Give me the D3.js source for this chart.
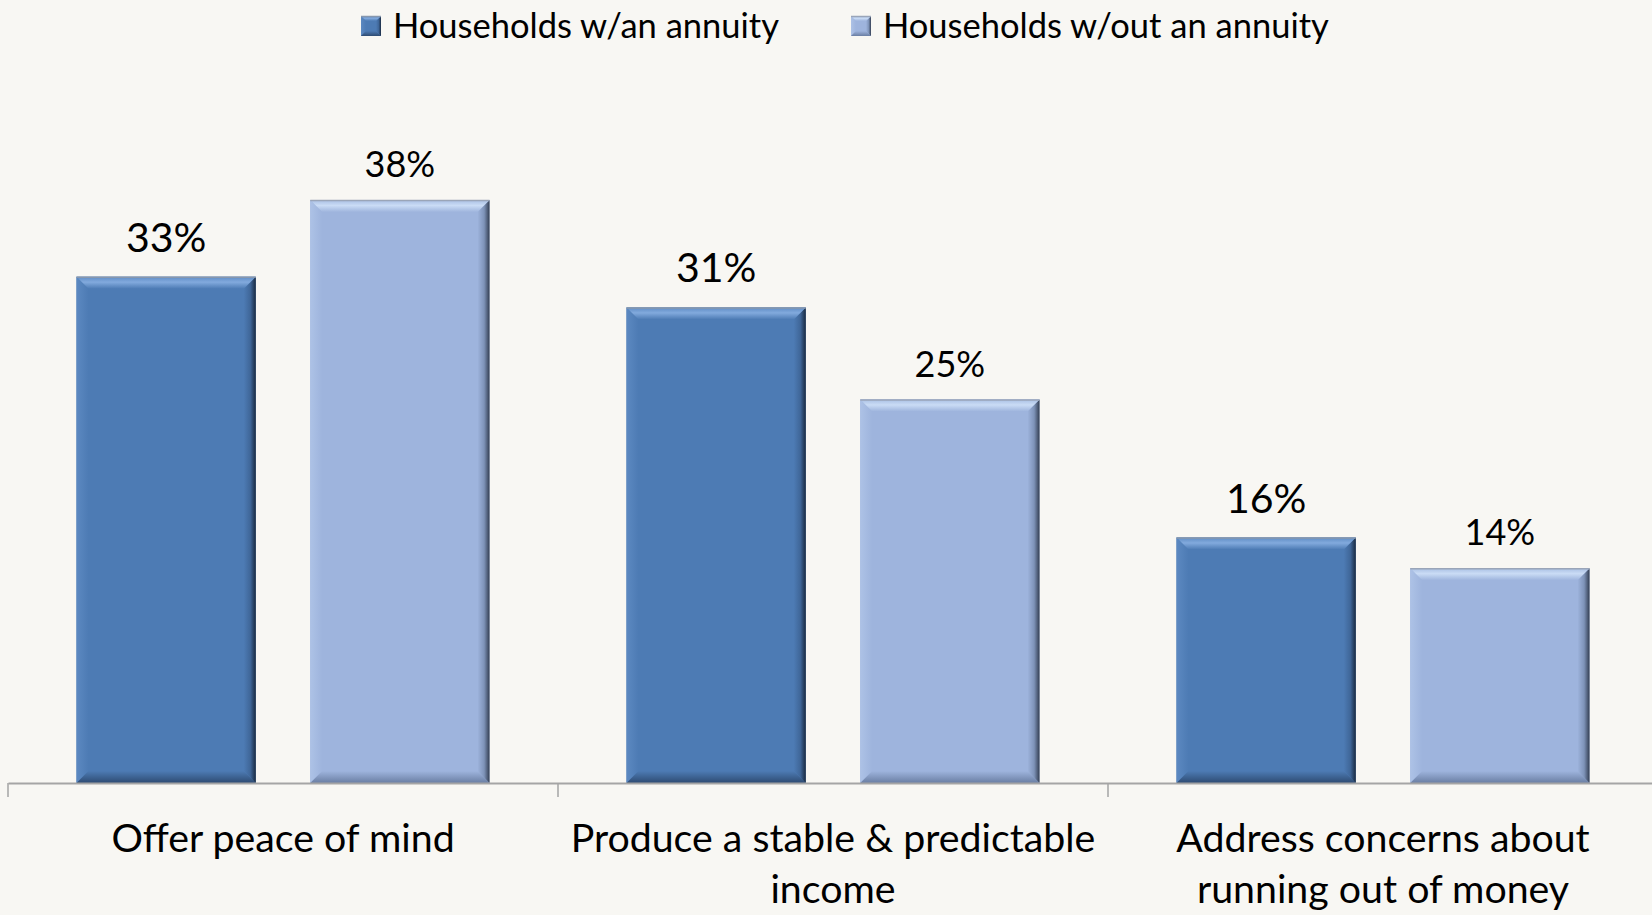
<!DOCTYPE html>
<html>
<head>
<meta charset="utf-8">
<script src="https://cdn.jsdelivr.net/npm/d3@7"></script>
<style>
  body { margin: 0; background: #f8f7f3; }
  text { font-family: Lato, "Open Sans", sans-serif; fill: #000; }
</style>
</head>
<body>
<div id="chart"></div>
<script>
// chart data
const categories = ["Offer peace of mind", "Produce a stable & predictable income", "Address concerns about running out of money"];
const categoryLines = [["Offer peace of mind"], ["Produce a stable & predictable", "income"], ["Address concerns about", "running out of money"]];
const seriesNames = ["Households w/an annuity", "Households w/out an annuity"];
const withAnnuity = [0.33, 0.31, 0.16];
const withoutAnnuity = [0.38, 0.25, 0.14];

const width = 1652, height = 915;
const axisY = 783;

const palette = [
  { base: "#4d7bb4", top: "#82aadd", topEdge: "#5f8cc4", mid: "#3f6698", right: "#1a2a40", bottom: "#2e4b72", left: "#5c89c1", stroke: "#8797ad" },
  { base: "#9eb4dd", top: "#cadcf5", topEdge: "#a9bfe4", mid: "#7e93b8", right: "#333e52", bottom: "#6a7ea3", left: "#adc2e6", stroke: "#9aa5b8" }
];

const svg = d3.select("#chart")
  .append("svg")
  .attr("width", width)
  .attr("height", height);

svg.append("rect").attr("width", width).attr("height", height).attr("fill", "#f8f7f3");

const defs = svg.append("defs");
palette.forEach((p, i) => {
  const grad = (id, x2, y2, stops) => {
    const g = defs.append("linearGradient").attr("id", id)
      .attr("x1", 0).attr("y1", 0).attr("x2", x2).attr("y2", y2);
    stops.forEach(s => g.append("stop").attr("offset", s[0]).attr("stop-color", s[1]));
  };
  grad(`top${i}`, 0, 1, [[0, p.topEdge], [0.45, p.top], [1, p.base]]);
  grad(`right${i}`, 1, 0, [[0, p.base], [0.55, p.mid], [1, p.right]]);
  grad(`bottom${i}`, 0, 1, [[0, p.base], [1, p.bottom]]);
  grad(`left${i}`, 1, 0, [[0, p.left], [1, p.base]]);
});

const x0 = d3.scaleBand()
  .domain(categories)
  .range([8, 1658]);

const x1 = d3.scaleBand()
  .domain(seriesNames)
  .range([0, x0.bandwidth()])
  .paddingInner(0.233)
  .paddingOuter(0.293);

const y = d3.scaleLinear()
  .domain([0, 0.4])
  .range([axisY, 169.4]);

const rows = [];
categories.forEach((c, ci) => {
  rows.push({ cat: c, s: 0, value: withAnnuity[ci] });
  rows.push({ cat: c, s: 1, value: withoutAnnuity[ci] });
});

// bevelled bar
function bevel(g, bx, by, bw, bh, s, b) {
  const xr = bx + bw, yb = by + bh;
  g.append("rect").attr("x", bx).attr("y", by).attr("width", bw).attr("height", bh)
    .attr("fill", palette[s].base);
  const poly = (pts, fill) => g.append("polygon")
    .attr("points", pts.map(p => p.join(",")).join(" "))
    .attr("fill", fill);
  poly([[bx, by], [bx + b, by + b], [bx + b, yb - b], [bx, yb]], `url(#left${s})`);
  poly([[bx, yb], [bx + b, yb - b], [xr - b, yb - b], [xr, yb]], `url(#bottom${s})`);
  poly([[xr, by], [xr, yb], [xr - b, yb - b], [xr - b, by + b]], `url(#right${s})`);
  poly([[bx, by], [xr, by], [xr - b, by + b], [bx + b, by + b]], `url(#top${s})`);
  g.append("line").attr("x1", bx).attr("x2", xr).attr("y1", by + 0.5).attr("y2", by + 0.5)
    .attr("stroke", palette[s].stroke).attr("stroke-width", 1.5);
}

const bars = svg.append("g");
rows.forEach(d => {
  const bx = x0(d.cat) + x1(seriesNames[d.s]);
  const by = y(d.value);
  bevel(bars.append("g"), bx, by, x1.bandwidth(), y(0) - by, d.s, 12);
});

// value labels
svg.append("g")
  .selectAll("text")
  .data(rows)
  .join("text")
  .attr("x", d => x0(d.cat) + x1(seriesNames[d.s]) + x1.bandwidth() / 2)
  .attr("y", d => y(d.value) - (d.s === 0 ? 25 : 23))
  .attr("text-anchor", "middle")
  .attr("font-size", d => d.s === 0 ? 41 : 36)
  .text(d => d3.format(".0%")(d.value));

// x axis
const xAxis = svg.append("g")
  .attr("transform", `translate(0,${axisY})`)
  .call(d3.axisBottom(x0).tickSize(0).tickSizeOuter(0).tickFormat(""));
xAxis.select(".domain").attr("stroke", "#a5a5a5").attr("stroke-width", 2);

xAxis.selectAll(".tick text")
  .attr("font-size", 39.3)
  .attr("fill", "#000")
  .attr("y", 0)
  .attr("dy", null)
  .each(function(d, i) {
    const t = d3.select(this);
    categoryLines[i].forEach((line, li) => {
      t.append("tspan").attr("x", 0).attr("y", 69 + li * 51).text(line);
    });
  });

svg.append("g")
  .selectAll("line")
  .data(categories)
  .join("line")
  .attr("x1", d => x0(d))
  .attr("x2", d => x0(d))
  .attr("y1", axisY)
  .attr("y2", axisY + 14)
  .attr("stroke", "#a5a5a5")
  .attr("stroke-width", 1.5);

// legend
const legendX = [361, 851];
const legend = svg.append("g");
seriesNames.forEach((name, i) => {
  bevel(legend.append("g"), legendX[i], 16, 20, 20, i, 5);
  legend.append("text")
    .attr("x", legendX[i] + 32)
    .attr("y", 38)
    .attr("font-size", 34.5)
    .text(name);
});
</script>
</body>
</html>
